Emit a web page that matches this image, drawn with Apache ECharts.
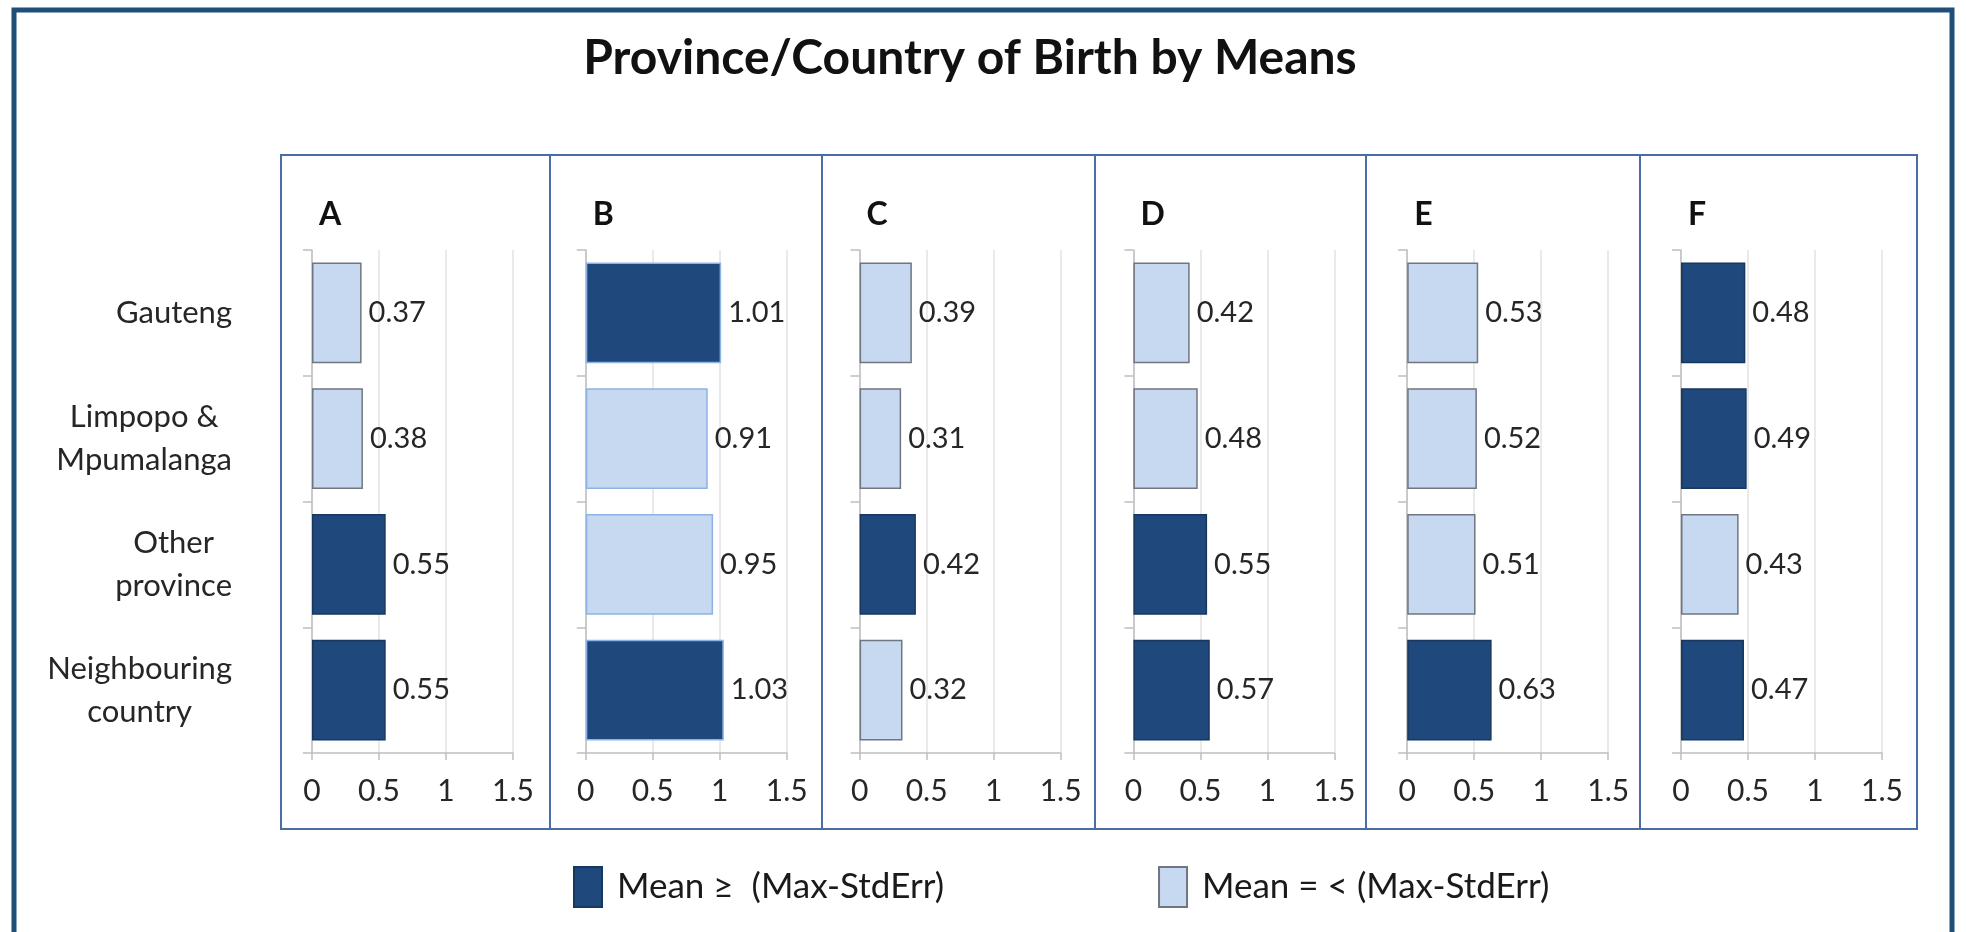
<!DOCTYPE html>
<html>
<head>
<meta charset="utf-8">
<title>Province/Country of Birth by Means</title>
<script src="https://cdn.jsdelivr.net/npm/echarts@6/dist/echarts.min.js"></script>
<style>
  html, body { margin: 0; padding: 0; background: #fff; }
  #chart { width: 1966px; height: 932px; }
</style>
</head>
<body>
<div id="chart"></div>
<script>
// categories (top to bottom)
const categories = ['Gauteng', 'Limpopo &\nMpumalanga', 'Other\nprovince', 'Neighbouring\ncountry'];
const panels = ['A', 'B', 'C', 'D', 'E', 'F'];

// means per panel
const meansA = [0.37, 0.38, 0.55, 0.55];
const meansB = [1.01, 0.91, 0.95, 1.03];
const meansC = [0.39, 0.31, 0.42, 0.32];
const meansD = [0.42, 0.48, 0.55, 0.57];
const meansE = [0.53, 0.52, 0.51, 0.63];
const meansF = [0.48, 0.49, 0.43, 0.47];

// 1 = Mean >= (Max-StdErr) (dark), 0 = below (light)
const highA = [0, 0, 1, 1];
const highB = [1, 0, 0, 1];
const highC = [0, 0, 1, 0];
const highD = [0, 0, 1, 1];
const highE = [0, 0, 0, 1];
const highF = [1, 1, 0, 1];

const xTicks = [0, 0.5, 1, 1.5];
const legendNames = ['Mean \u2265  (Max-StdErr)', 'Mean = < (Max-StdErr)'];

const means = [meansA, meansB, meansC, meansD, meansE, meansF];
const highs = [highA, highB, highC, highD, highE, highF];

const DARK = '#1f497d';
const LIGHT = '#c6d9f1';
const FONT = 'Lato';
const CAT_SIZE = 31;

// category label blocks: right aligned, lines centred inside the block
const ctx = document.createElement('canvas').getContext('2d');
ctx.font = CAT_SIZE + 'px ' + FONT;
const catRich = {};
categories.forEach((c, k) => {
  const lines = c.split('\n');
  const widths = lines.map(l => ctx.measureText(l).width);
  const maxW = Math.max(...widths);
  lines.forEach((l, j) => {
    const pad = (maxW - widths[j]) / 2;
    catRich['c' + k + 'l' + j] = {
      padding: [0, pad, 0, pad],
      fontFamily: FONT, fontSize: CAT_SIZE, color: '#262626', lineHeight: 43
    };
  });
});

const chart = echarts.init(document.getElementById('chart'));

const grids = [];
const xAxes = [];
const yAxes = [];
const series = [];
const titles = [{
  text: 'Province/Country of Birth by Means',
  left: 965,
  textAlign: 'center',
  top: 30,
  textStyle: { fontFamily: FONT, fontSize: 48, fontWeight: 'bold', color: '#111' }
}];

panels.forEach((p, i) => {
  const x0 = 312 + i * 273.8;
  grids.push({ left: x0, top: 250, width: 201, height: 503 });
  titles.push({
    text: p,
    left: x0 + 2,
    top: 194,
    textStyle: { fontFamily: FONT, fontSize: 32, fontWeight: 'bold', color: '#111' }
  });
  xAxes.push({
    type: 'value', gridIndex: i, min: xTicks[0], max: xTicks[xTicks.length - 1], interval: 0.5,
    axisLine: { show: true, lineStyle: { color: '#bfbfbf', width: 1.5 } },
    axisTick: { show: true, length: 7, lineStyle: { color: '#bfbfbf', width: 1.5 } },
    splitLine: { show: true, lineStyle: { color: '#e3e3e3', width: 1.5 } },
    axisLabel: { fontFamily: FONT, fontSize: 30, color: '#262626', margin: 23 }
  });
  yAxes.push({
    type: 'category', gridIndex: i, data: categories, inverse: true,
    axisLine: { show: true, lineStyle: { color: '#bfbfbf', width: 1.5 } },
    axisTick: { show: true, length: 9, lineStyle: { color: '#bfbfbf', width: 1.5 } },
    axisLabel: {
      show: i === 0, align: 'right', margin: 80,
      formatter: (value, idx) => value.split('\n').map((l, j) => '{c' + idx + 'l' + j + '|' + l + '}').join('\n'),
      rich: catRich
    }
  });
  const isB = p === 'B';
  const label = {
    show: true, position: 'right', distance: 7,
    fontFamily: FONT, fontSize: 29, color: '#262626',
    formatter: d => d.value.toFixed(2)
  };
  series.push({
    name: legendNames[0], type: 'bar', xAxisIndex: i, yAxisIndex: i,
    barCategoryGap: '20%', barGap: '-100%',
    itemStyle: { color: DARK, borderColor: isB ? '#8db3e2' : '#17375e', borderWidth: 1.5 },
    label: label,
    data: means[i].map((v, k) => highs[i][k] ? v : '-')
  });
  series.push({
    name: legendNames[1], type: 'bar', xAxisIndex: i, yAxisIndex: i,
    barCategoryGap: '20%', barGap: '-100%',
    itemStyle: { color: LIGHT, borderColor: isB ? '#8db3e2' : '#6f7680', borderWidth: 1.5 },
    label: label,
    data: means[i].map((v, k) => highs[i][k] ? '-' : v)
  });
});

// panel frame and dividers
const dividers = [550, 822, 1095, 1366, 1640];
const graphics = [
  { type: 'rect', shape: { x: 14, y: 10, width: 1938, height: 940 }, style: { fill: 'none', stroke: '#1f4e79', lineWidth: 5 }, z: 100 },
  { type: 'rect', shape: { x: 281, y: 155, width: 1636, height: 674 }, style: { fill: 'none', stroke: '#4a6da3', lineWidth: 2 }, z: 100 }
];
dividers.forEach(x => {
  graphics.push({ type: 'line', shape: { x1: x, y1: 155, x2: x, y2: 829 }, style: { stroke: '#4a6da3', lineWidth: 2 }, z: 100 });
});

chart.setOption({
  animation: false,
  backgroundColor: '#fff',
  title: titles,
  legend: {
    data: legendNames,
    icon: 'rect',
    left: 568,
    top: 861,
    itemWidth: 28,
    itemHeight: 40,
    itemGap: 214,
    selectedMode: false,
    textStyle: { fontFamily: FONT, fontSize: 35, color: '#1a1a1a', padding: [0, 0, 0, 10] }
  },
  grid: grids,
  xAxis: xAxes,
  yAxis: yAxes,
  series: series,
  graphic: graphics
});
</script>
</body>
</html>
